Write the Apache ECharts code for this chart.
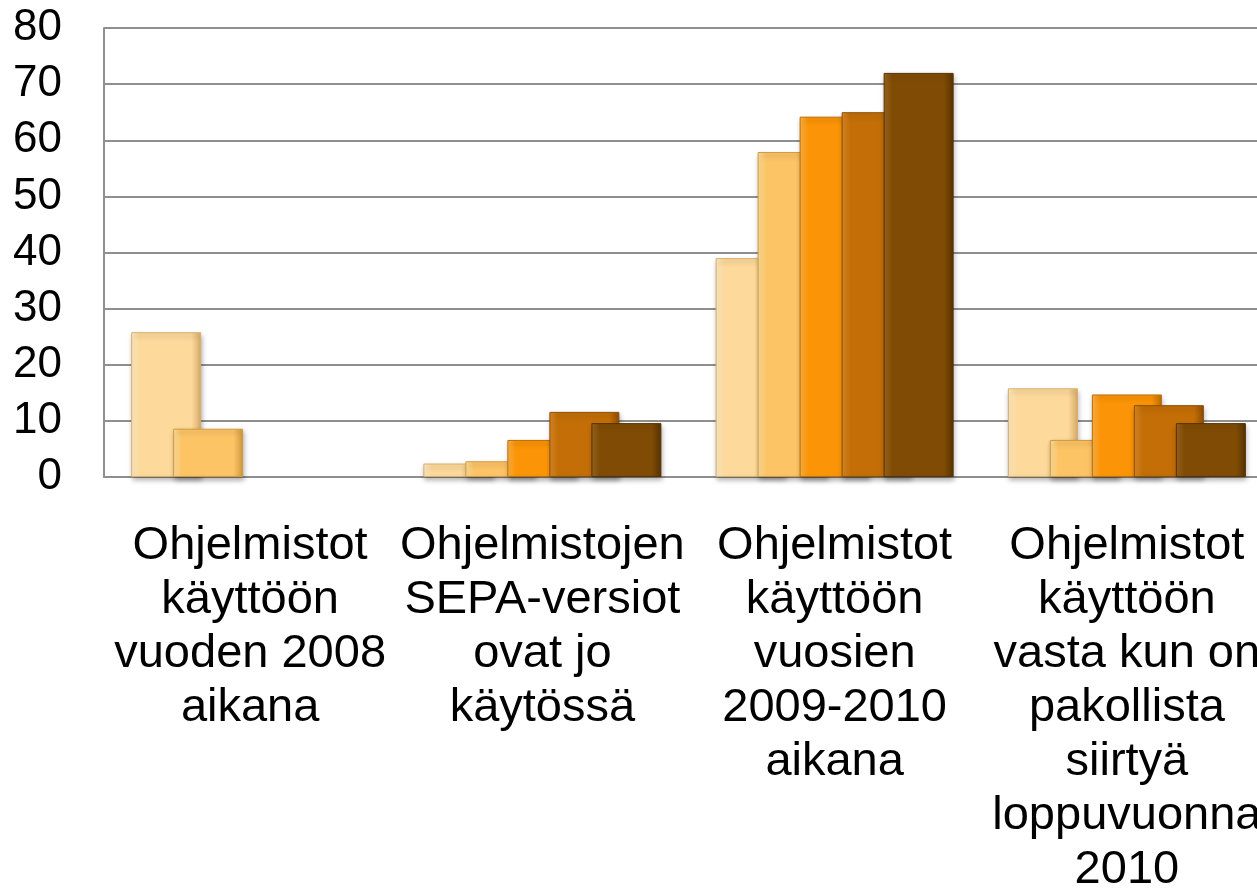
<!DOCTYPE html>
<html>
<head>
<meta charset="utf-8">
<script src="https://cdn.jsdelivr.net/npm/echarts@6/dist/echarts.min.js"></script>
<style>
html,body{margin:0;padding:0;background:#fff;overflow:hidden;}
#chart{width:1257px;height:896px;}
</style>
</head>
<body>
<div id="chart"></div>
<script>
var categories = [
  "Ohjelmistot\nkäyttöön\nvuoden 2008\naikana",
  "Ohjelmistojen\nSEPA-versiot\novat jo\nkäytössä",
  "Ohjelmistot\nkäyttöön\nvuosien\n2009-2010\naikana",
  "Ohjelmistot\nkäyttöön\nvasta kun on\npakollista\nsiirtyä\nloppuvuonna\n2010"
];
var series1 = [25.8, 2.4, 39.0, 15.8];
var series2 = [8.6, 2.8, 57.9, 6.6];
var series3 = [null, 6.6, 64.2, 14.7];
var series4 = [null, 11.6, 65.0, 12.8];
var series5 = [null, 9.6, 72.0, 9.6];
var yTicks = [0, 10, 20, 30, 40, 50, 60, 70, 80];

var palette = [
  {light: "#FFEFC8", base: "#FDD99B", dark: "#D9AE6A"},
  {light: "#FFE2A0", base: "#FDC466", dark: "#D29A3E"},
  {light: "#FFB64A", base: "#FB9407", dark: "#C06E00"},
  {light: "#DC8B2A", base: "#C36E07", dark: "#8E4E02"},
  {light: "#9E6622", base: "#804C05", dark: "#583302"}
];
function grad(p) {
  return new echarts.graphic.LinearGradient(0, 0, 1, 0, [
    {offset: 0, color: p.light},
    {offset: 0.12, color: p.base},
    {offset: 0.86, color: p.base},
    {offset: 1, color: p.dark}
  ]);
}
var allSeries = [series1, series2, series3, series4, series5];
var chart = echarts.init(document.getElementById('chart'));
chart.setOption({
  animation: false,
  backgroundColor: '#ffffff',
  grid: {left: 104, right: -16, top: 28, bottom: 419, containLabel: false, outerBoundsMode: 'none'},
  xAxis: {
    type: 'category',
    data: categories,
    axisLine: {show: true, lineStyle: {color: '#8f8f8f', width: 2}},
    axisTick: {show: false},
    axisLabel: {
      interval: 0,
      margin: 42,
      fontFamily: 'Liberation Sans, Arial, sans-serif',
      fontSize: 47,
      lineHeight: 54,
      color: '#000',
      align: 'center'
    },
    splitLine: {show: false}
  },
  yAxis: {
    type: 'value',
    min: yTicks[0],
    max: yTicks[yTicks.length - 1],
    interval: 10,
    axisLine: {show: true, lineStyle: {color: '#8f8f8f', width: 2}},
    axisTick: {show: false},
    axisLabel: {
      margin: 42,
      fontFamily: 'Liberation Sans, Arial, sans-serif',
      fontSize: 44,
      color: '#000'
    },
    splitLine: {show: true, lineStyle: {color: '#8f8f8f', width: 2}}
  },
  series: allSeries.map(function (d, i) {
    return {
      type: 'bar',
      data: d,
      barWidth: 70,
      barGap: '-40%',
      itemStyle: {
        color: grad(palette[i]),
        borderColor: palette[i].dark,
        borderWidth: 1,
        shadowBlur: 5,
        shadowOffsetY: 3,
        shadowOffsetX: 1,
        shadowColor: 'rgba(0,0,0,0.3)'
      }
    };
  })
});
</script>
</body>
</html>
